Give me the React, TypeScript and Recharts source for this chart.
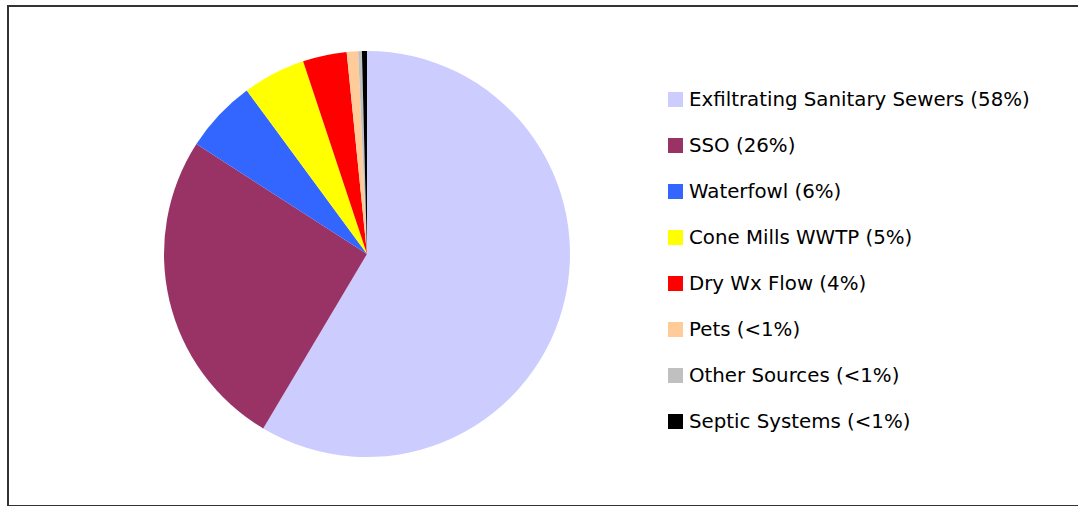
import React from "react";
import { PieChart, Pie, Cell } from "recharts";

const sources = [
  "Exfiltrating Sanitary Sewers (58%)",
  "SSO (26%)",
  "Waterfowl (6%)",
  "Cone Mills WWTP (5%)",
  "Dry Wx Flow (4%)",
  "Pets (<1%)",
  "Other Sources (<1%)",
  "Septic Systems (<1%)",
];
const shares = [58.6, 25.6, 5.8, 5.0, 3.5, 0.9, 0.3, 0.4];
const colors = [
  "#CCCCFF",
  "#993366",
  "#3366FF",
  "#FFFF00",
  "#FF0000",
  "#FFCC99",
  "#C0C0C0",
  "#000000",
];

const data = sources.map((name, i) => ({ name, value: shares[i] }));

const LegendList = () => (
  <div style={{ position: "absolute", left: 659, top: 69 }}>
    {sources.map((name, i) => (
      <div
        key={name}
        style={{ height: 46, display: "flex", alignItems: "center" }}
      >
        <span
          style={{
            width: 15,
            height: 15,
            background: colors[i],
            marginRight: 6,
            display: "inline-block",
          }}
        />
        <span style={{ fontSize: 19.8, color: "#000", whiteSpace: "nowrap" }}>
          {name}
        </span>
      </div>
    ))}
  </div>
);

export default function App() {
  return (
    <div
      style={{
        position: "fixed",
        left: 7,
        top: 5,
        width: 1080,
        height: 498,
        border: "2px solid #333",
        background: "#fff",
        fontFamily: "'Comic Sans MS', 'DejaVu Sans', sans-serif",
      }}
    >
      <PieChart width={1080} height={498}>
        <Pie
          data={data}
          dataKey="value"
          nameKey="name"
          cx={353}
          cy={242}
          outerRadius={203}
          startAngle={90}
          endAngle={-270}
          stroke="none"
          isAnimationActive={false}
        >
          {data.map((d, i) => (
            <Cell key={d.name} fill={colors[i]} />
          ))}
        </Pie>
      </PieChart>
      <LegendList />
    </div>
  );
}
